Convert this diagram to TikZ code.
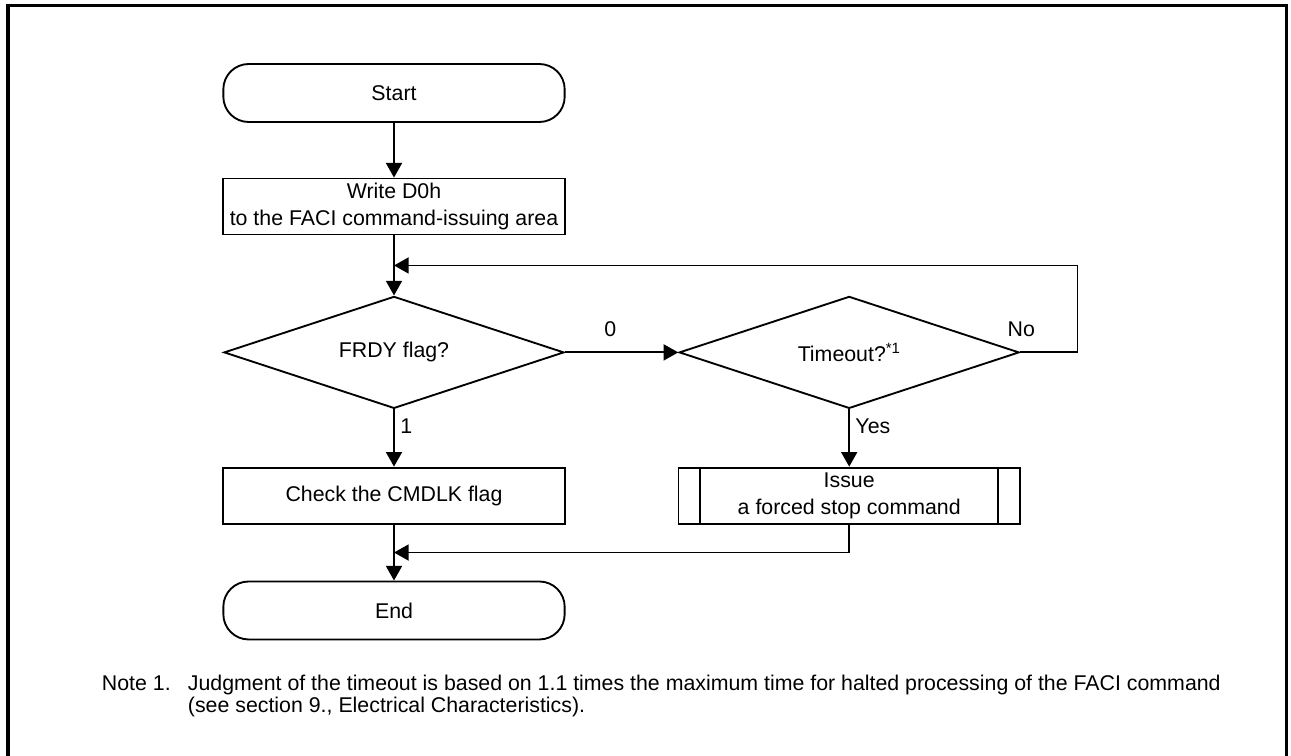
\documentclass[tikz,border=0pt]{standalone}
\usepackage{fontspec}
\setmainfont{Liberation Sans}
\usepackage{tikz}
\usetikzlibrary{positioning, arrows.meta, shapes.geometric, calc}

\begin{document}
\begin{tikzpicture}[
    x=0.75pt, y=-0.75pt,
    >={Triangle[width=12pt,length=11pt]},
    line width=1.4pt,
    every node/.style={font=\fontsize{16}{20}\selectfont},
    terminal/.style={rectangle, draw=black, rounded corners=19pt, minimum width=256pt, minimum height=43.5pt, inner sep=0pt},
    process/.style={rectangle, draw=black, align=center, minimum width=257pt, minimum height=42pt, inner sep=0pt},
    decision/.style={diamond, draw=black, aspect=3, minimum width=255pt, minimum height=84pt, inner sep=0pt},
    subproc/.style={process, minimum width=256pt},
    tag/.style={inner sep=4pt}
]
\useasboundingbox (0,0) rectangle (1291,756);

% Frame
\draw[line width=2.5pt] (8,800) -- (8,5.5) -- (1286.5,5.5) -- (1286.5,800);

% Nodes
\node[terminal] (start) at (394,93) {Start};
\node[process] (write) [below=41pt of start] {Write D0h\\to the FACI command-issuing area};
\node[decision] (frdy) [below=45pt of write] {FRDY flag?};
\node[decision] (tmo) [right=85pt of frdy] {Timeout?\textsuperscript{*1}};
\node[process] (check) [below=43pt of frdy] {Check the CMDLK flag};
\node[subproc] (issue) [below=43pt of tmo] {Issue\\a forced stop command};
\node[terminal] (end) [below=42pt of check] {End};

% Inner bars of the predefined process
\draw ([xshift=17pt] issue.north west) -- ([xshift=17pt] issue.south west);
\draw ([xshift=-17pt] issue.north east) -- ([xshift=-17pt] issue.south east);

% Join points
\coordinate (loop) at ($(write.south)!0.5!(frdy.north)$);
\coordinate (join) at ($(check.south)!0.5!(end.north)$);

% Arrows
\draw[->] (start) -- (write);
\draw[->] (write) -- (frdy);
\draw[->] (frdy) -- node[tag, above=7pt, pos=0.4] {0} (tmo);
\draw[->] (frdy) -- node[tag, right, pos=0.3] {1} (check);
\draw[->] (tmo) -- node[tag, right, pos=0.3] {Yes} (issue);
\draw[->] (tmo.east) -- node[tag, above=7pt, pos=0.02] {No} ++(43pt,0) |- (loop);
\draw[->] (check) -- (end);
\draw[->] (issue.south) |- (join);

% Note
\node[anchor=base west, inner sep=0pt] (notehd) at (101,690) {Note 1.};
\node[anchor=base west, inner sep=0pt] (note1) at (187,690) {Judgment of the timeout is based on 1.1 times the maximum time for halted processing of the FACI command};
\node[anchor=base west, inner sep=0pt] (note2) at (187,712) {(see section 9., Electrical Characteristics).};

\end{tikzpicture}
\end{document}
